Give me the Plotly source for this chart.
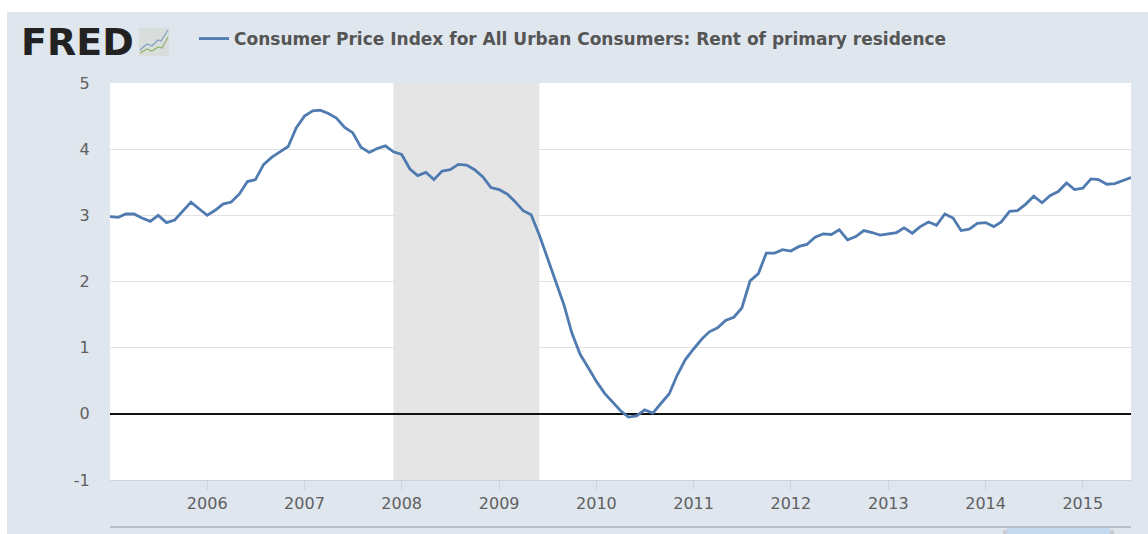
import plotly.graph_objects as go
import pandas as pd

SERIES_NAME = "Consumer Price Index for All Urban Consumers: Rent of primary residence"
dates = pd.date_range("2005-01-01", "2015-07-01", freq="MS")
v2005 = [2.98, 2.97, 3.02, 3.02, 2.96, 2.91, 3.00, 2.89, 2.93, 3.07, 3.20, 3.10]
v2006 = [3.00, 3.08, 3.17, 3.20, 3.32, 3.51, 3.54, 3.77, 3.88, 3.96, 4.04, 4.32]
v2007 = [4.50, 4.58, 4.59, 4.54, 4.47, 4.33, 4.25, 4.03, 3.95, 4.01, 4.05, 3.96]
v2008 = [3.92, 3.70, 3.60, 3.65, 3.54, 3.67, 3.69, 3.77, 3.76, 3.69, 3.58, 3.42]
v2009 = [3.39, 3.32, 3.21, 3.07, 3.01, 2.70, 2.35, 2.02, 1.65, 1.22, 0.90, 0.70]
v2010 = [0.49, 0.31, 0.18, 0.05, -0.05, -0.03, 0.06, 0.01, 0.16, 0.30, 0.59, 0.82]
v2011 = [0.98, 1.13, 1.24, 1.30, 1.41, 1.46, 1.60, 2.01, 2.12, 2.43, 2.43, 2.48]
v2012 = [2.46, 2.53, 2.56, 2.67, 2.72, 2.71, 2.78, 2.63, 2.68, 2.77, 2.74, 2.70]
v2013 = [2.72, 2.74, 2.81, 2.73, 2.83, 2.90, 2.85, 3.02, 2.96, 2.77, 2.79, 2.88]
v2014 = [2.89, 2.83, 2.90, 3.06, 3.07, 3.17, 3.29, 3.19, 3.30, 3.36, 3.49, 3.39]
v2015 = [3.41, 3.55, 3.54, 3.47, 3.48, 3.53, 3.57]
values = v2005 + v2006 + v2007 + v2008 + v2009 + v2010 + v2011 + v2012 + v2013 + v2014 + v2015

recession_start = "2007-12-01"
recession_end = "2009-06-01"
x_tick_years = list(range(2006, 2016))
y_ticks = [-1, 0, 1, 2, 3, 4, 5]
y_tick_labels = ["-1", "0", "1", "2", "3", "4", "5"]

W, H = 1148, 534
L, R, T, B = 110, 1131, 83, 480
BG = "#dfe6ee"
GREY = "#606060"
LINE = "#4f7bb0"


def px(x):
    return (x - L) / (R - L)


def py(y):
    return (B - y) / (B - T)


def rect(x0, y0, x1, y1, color):
    return dict(type="rect", xref="paper", yref="paper", x0=px(x0), x1=px(x1), y0=py(y0), y1=py(y1),
                fillcolor=color, line_width=0, layer="above")


def path(points, color, width=1.5):
    d = "M" + " L".join(f"{px(a):.5f},{py(b):.5f}" for a, b in points)
    return dict(type="path", xref="paper", yref="paper", path=d, line=dict(color=color, width=width), layer="above")


fig = go.Figure(go.Scatter(
    x=dates, y=values, mode="lines", name="<b>" + SERIES_NAME + "</b>",
    line=dict(color=LINE, width=2.8), showlegend=True,
))

shapes = [
    # page margin left and above the chart panel
    rect(0, 0, W, 12, "#ffffff"),
    rect(0, 0, 7, H, "#ffffff"),
    # recession band
    dict(type="rect", xref="x", yref="paper", x0=recession_start, x1=recession_end, y0=0, y1=1,
         fillcolor="#e5e5e5", line_width=0, layer="below"),
    # logo badge
    rect(139, 28, 169, 56, "#d9dedd"),
    path([(140, 50), (147, 44), (152, 46), (158, 40), (161, 41), (168, 30)], "#7d9fc0", 1.2),
    path([(140, 53), (147, 49), (152, 51), (158, 47), (162, 48), (168, 37)], "#8fb36a", 1.2),
    # navigator strip
    rect(110, 526, 1131, 528, "#b9bec8"),
    rect(1007, 528, 1110, 534, "#c5d9ef"),
    rect(1003, 530, 1007, 534, "#c9cbd0"),
    rect(1110, 530, 1114, 534, "#c9cbd0"),
]

fig.update_layout(
    width=W, height=H,
    margin=dict(l=L, r=W - R, t=T, b=H - B, autoexpand=False),
    paper_bgcolor=BG, plot_bgcolor="#ffffff",
    font=dict(family="DejaVu Sans", size=14, color=GREY),
    shapes=shapes,
    legend=dict(
        x=px(194), y=py(39), xanchor="left", yanchor="middle", orientation="h",
        bgcolor="rgba(0,0,0,0)", font=dict(size=17, color="#555555", family="DejaVu Sans"),
    ),
    annotations=[dict(
        text="<b>FRED</b>", xref="paper", yref="paper", x=px(19), y=py(42), xanchor="left", yanchor="middle",
        showarrow=False, font=dict(family="DejaVu Sans", size=38, color="#222222"),
    )],
    xaxis=dict(
        type="date", range=[dates[0], dates[-1]],
        tickvals=[f"{y}-01-01" for y in x_tick_years], ticktext=[str(y) for y in x_tick_years],
        showgrid=False, ticks="outside", ticklen=9, tickcolor="#c6d4e3", tickwidth=1,
        showline=True, linecolor="#c6d4e3", linewidth=1, zeroline=False,
        tickfont=dict(size=16, color=GREY),
    ),
    yaxis=dict(
        range=[-1, 5], tickvals=y_ticks, ticktext=y_tick_labels,
        showgrid=True, gridcolor="#e2e2e2", gridwidth=1,
        zeroline=True, zerolinecolor="#111111", zerolinewidth=2,
        ticks="outside", ticklen=16, tickcolor="rgba(0,0,0,0)",
        showline=False, tickfont=dict(size=16, color=GREY),
    ),
)

fig.write_html("out.html", config={"displayModeBar": False},
               post_script="document.body.style.margin='0';document.body.style.overflow='hidden';")
